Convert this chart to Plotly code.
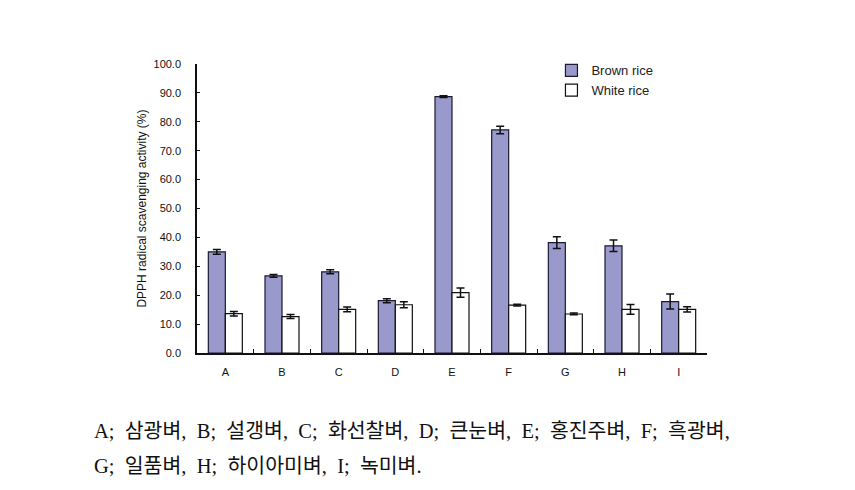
import plotly.graph_objects as go

categories = ["A", "B", "C", "D", "E", "F", "G", "H", "I"]
brown = [35.0, 26.7, 28.1, 18.1, 88.7, 77.2, 38.2, 37.1, 17.8]
brown_err = [0.8, 0.5, 0.7, 0.7, 0.3, 1.3, 2.0, 2.0, 2.6]
white = [13.6, 12.6, 15.1, 16.7, 20.9, 16.6, 13.5, 15.1, 15.1]
white_err = [0.8, 0.7, 0.8, 1.0, 1.6, 0.3, 0.3, 1.7, 0.9]
yticks = [0, 10, 20, 30, 40, 50, 60, 70, 80, 90, 100]
caption1 = "A;  삼광벼,  B;  설갱벼,  C;  화선찰벼,  D;  큰눈벼,  E;  홍진주벼,  F;  흑광벼,"
caption2 = "G;  일품벼,  H;  하이아미벼,  I;  녹미벼."

L, R, T, B = 197, 148, 64, 137
W, H = 855, 490
pw, ph = W - L - R, H - T - B

fig = go.Figure()
fig.add_trace(go.Bar(
    x=categories, y=brown, name="Brown rice",
    marker=dict(color="#9999CC", line=dict(color="#1a1a33", width=1.2)),
    error_y=dict(type="data", array=brown_err, color="#111111", thickness=1.5, width=4),
))
fig.add_trace(go.Bar(
    x=categories, y=white, name="White rice",
    marker=dict(color="#FFFFFF", line=dict(color="#111111", width=1.2)),
    error_y=dict(type="data", array=white_err, color="#111111", thickness=1.5, width=4),
))

fig.update_layout(
    width=W, height=H,
    margin=dict(l=L, r=R, t=T, b=B),
    paper_bgcolor="white", plot_bgcolor="white",
    barmode="group", bargap=0.4, bargroupgap=0,
    font=dict(family="Liberation Sans, Arial, sans-serif", size=10, color="#111111"),
    showlegend=True,
    legend=dict(x=0.695, y=1.03, xanchor="left", yanchor="top",
                bgcolor="rgba(0,0,0,0)", font=dict(size=13, color="#222222"),
                itemwidth=30, tracegroupgap=2),
    xaxis=dict(
        showline=True, linecolor="#111111", linewidth=1.5,
        ticks="inside", ticklen=4, tickcolor="#111111", tickson="boundaries",
        showgrid=False, tickfont=dict(size=11), range=[-0.5, 8.5],
        ticklabelstandoff=8,
    ),
    yaxis=dict(
        range=[0, 100], tickvals=yticks, tickformat=".1f",
        showline=True, linecolor="#111111", linewidth=1.5,
        ticks="inside", ticklen=3, tickcolor="#111111",
        showgrid=False, zeroline=False, tickfont=dict(size=11),
        ticklabelstandoff=12,
        title=dict(text="DPPH radical scavenging activity (%)", font=dict(size=12), standoff=4),
    ),
)

cap_font = dict(family="Liberation Serif, Noto Sans CJK KR, serif", size=20.5, color="#111111")
for text, py in [(caption1, 431), (caption2, 466)]:
    fig.add_annotation(x=(92 - L) / pw, y=1 - (py - T) / ph, xref="paper", yref="paper",
                       text=text, showarrow=False, xanchor="left", yanchor="middle",
                       font=cap_font)

fig.write_html("out.html")
